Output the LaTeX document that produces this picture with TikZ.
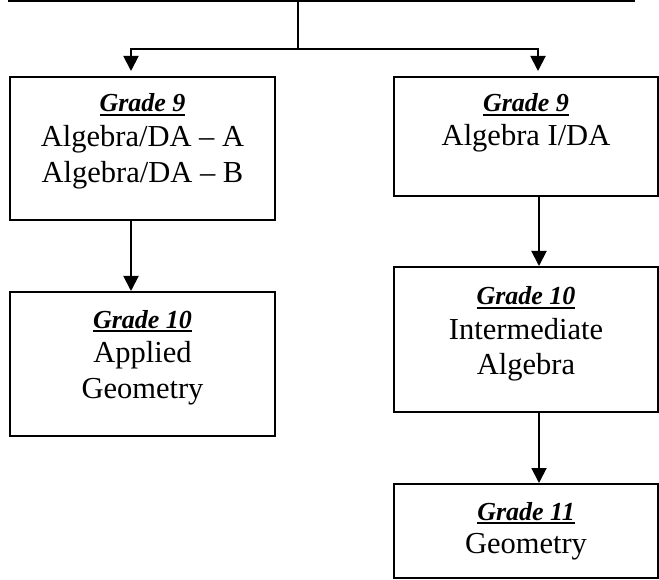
\documentclass[tikz,border=0pt]{standalone}
\usepackage{fontspec}
\setmainfont{Liberation Serif}
\usetikzlibrary{arrows.meta,calc}
\newcommand{\hdtext}[1]{\setbox0\hbox{#1}\rlap{\rule[-4pt]{\wd0}{2pt}}\box0}
\tikzset{
  box/.style={draw, line width=2pt, rectangle, inner sep=0pt},
  body/.style={anchor=base, inner sep=0pt, font=\fontsize{30.5}{36}\selectfont},
  head/.style={anchor=base, inner sep=0pt, font=\fontsize{26}{30}\selectfont\bfseries\itshape},
  link/.style={line width=1.9pt},
  arr/.style={line width=1.9pt, -{Triangle[width=15pt,length=15pt]}}
}
\begin{document}
\begin{tikzpicture}[x=1pt,y=-1pt]
\useasboundingbox (0,0) rectangle (659,580);
\clip (0,0) rectangle (659,580);
% top box (cut off)
\node[box, minimum width=625pt, minimum height=43pt] (top) at (321.5,-20) {};
% boxes
\node[box, minimum width=265pt, minimum height=143pt] (g9a) at (142.5,148.5) {};
\node[box, minimum width=265pt, minimum height=144pt] (g10a) at (142.5,364) {};
\node[box, minimum width=264pt, minimum height=119pt] (g9b) at (526,136.5) {};
\node[box, minimum width=264pt, minimum height=145pt] (g10b) at (526,339.5) {};
\node[box, minimum width=264pt, minimum height=94pt] (g11) at (526,531) {};
% texts
\node[head] (g9a-h) at (142.5,112) {\hdtext{Grade 9}};
\node[body] (g9a-1) at (142.5,147) {Algebra/DA – A};
\node[body] (g9a-2) at (142.5,183) {Algebra/DA – B};
\node[head] (g9b-h) at (526,112) {\hdtext{Grade 9}};
\node[body] (g9b-1) at (526,146) {Algebra I/DA};
\node[head] (g10a-h) at (142.5,328) {\hdtext{Grade 10}};
\node[body] (g10a-1) at (142.5,362) {Applied};
\node[body] (g10a-2) at (142.5,398) {Geometry};
\node[head] (g10b-h) at (526,305) {\hdtext{Grade 10}};
\node[body] (g10b-1) at (526,339) {Intermediate};
\node[body] (g10b-2) at (526,374) {Algebra};
\node[head] (g11-h) at (526,520) {\hdtext{Grade 11}};
\node[body] (g11-1) at (526,553) {Geometry};
% connectors
\coordinate (j) at (298,49);
\draw[link] (top.south -| j) -- (j);
\draw[arr, shorten >=5pt] (j) -| ([xshift=-11.5pt]g9a.north);
\draw[arr, shorten >=5pt] (j) -| ([xshift=12pt]g9b.north);
\draw[arr] ([xshift=-11.5pt]g9a.south) -- ([xshift=-11.5pt]g10a.north);
\draw[arr] ([xshift=13pt]g9b.south) -- ([xshift=13pt]g10b.north);
\draw[arr] ([xshift=13pt]g10b.south) -- ([xshift=13pt]g11.north);
\end{tikzpicture}
\end{document}
